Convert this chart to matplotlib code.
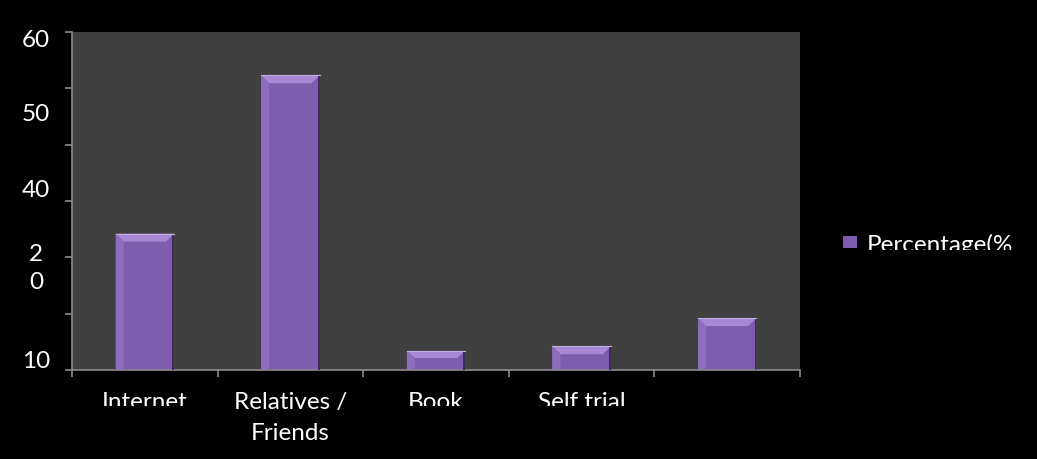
import matplotlib
matplotlib.use("Agg")
import matplotlib.pyplot as plt
from matplotlib.patches import Polygon, Rectangle
from matplotlib.transforms import Bbox, blended_transform_factory

categories = ["Internet", "Relatives /\nFriends", "Book", "Self trial", ""]
values = [24.2, 52.3, 3.3, 4.2, 9.2]
series_name = "Percentage(%"
ytick_values = [0, 10, 20, 30, 40, 50, 60]
# mangled labels as they appear, with their (offset) vertical positions
ylabel_texts = ["60", "50", "40", "2\n0", "10"]
ylabel_pos = [58.6, 45.6, 32.0, 18.2, 1.6]

FONT = "Lato"
FS = 17.5
face = "#7F5DAE"
bevel_top = "#A688D4"
bevel_side = "#8E6DBD"
edge_dark = "#3E2C58"

W, H, DPI = 1037, 460, 100
fig = plt.figure(figsize=(W / DPI, H / DPI), dpi=DPI, facecolor="black")
ax = fig.add_axes([72 / W, (H - 371) / H, (800 - 72) / W, (371 - 33) / H])
ax.set_facecolor("#404040")

x = list(range(len(categories)))
bars = ax.bar(x, values, width=0.4, color=face, edgecolor="none", zorder=2,
              label=series_name)

# bevel decorations derived from each bar's geometry
dx, dy = 0.055, 1.4
for b in bars:
    bx, bw, bh = b.get_x(), b.get_width(), b.get_height()
    d = min(dy, bh * 0.35)
    ax.add_patch(Polygon([(bx, bh), (bx + bw, bh), (bx + bw - dx, bh - d), (bx + dx, bh - d)],
                         closed=True, facecolor=bevel_top, edgecolor="none", zorder=3))
    ax.add_patch(Polygon([(bx, bh), (bx + dx, bh - d), (bx + dx, 0.3), (bx, 0)],
                         closed=True, facecolor=bevel_side, edgecolor="none", zorder=3))
    ax.add_patch(Rectangle((bx + bw - 0.012, 0), 0.012, bh, facecolor=edge_dark,
                           edgecolor="none", zorder=4))
    ax.plot([bx, bx + bw], [bh, bh], color="#C3AEE6", lw=0.8, zorder=4)

ax.set_xlim(-0.5, len(categories) - 0.5)
ax.set_ylim(0, 60)
ax.set_yticks(ytick_values)
ax.set_yticklabels([])
ax.set_xticks([i - 0.5 for i in range(len(categories) + 1)])
ax.set_xticklabels([])

for s in ["top", "right"]:
    ax.spines[s].set_visible(False)
for s in ["left", "bottom"]:
    ax.spines[s].set_color("#8C8C8C")
    ax.spines[s].set_linewidth(1.2)
ax.tick_params(axis="both", colors="#8C8C8C", length=5, width=1.2, direction="out")

# y labels
ytr = blended_transform_factory(fig.transFigure, ax.transData)
for t, p in zip(ylabel_texts, ylabel_pos):
    xr = 50 / W if len(t.split("\n")[0]) > 1 else 43 / W
    ax.text(xr, p, t, transform=ytr, ha="right", va="center", color="white",
            fontsize=FS, family=FONT, linespacing=1.45, clip_on=False)

# x labels (some clipped as in the source)
clip = Bbox([[0, H - 407], [W, H]])
for i, c in enumerate(categories):
    if not c:
        continue
    t = ax.text(i, -3.8, c, ha="center", va="top", color="white", fontsize=FS,
                family=FONT, linespacing=1.55)
    t.set_clip_on(False)
    if "\n" not in c:
        t.set_clip_box(clip)
        t.set_clip_on(True)

leg = fig.legend(handles=[bars], labels=[series_name], loc="upper left",
                 bbox_to_anchor=(821 / W, (H - 212) / H), frameon=False,
                 prop={"family": FONT, "size": FS}, handlelength=0.6,
                 handleheight=0.4, handletextpad=0.4, labelcolor="white")
for lt in leg.get_texts():
    lt.set_clip_box(Bbox([[0, H - 251], [W, H]]))
    lt.set_clip_on(True)

fig.savefig("out.png", dpi=DPI, facecolor="black")
